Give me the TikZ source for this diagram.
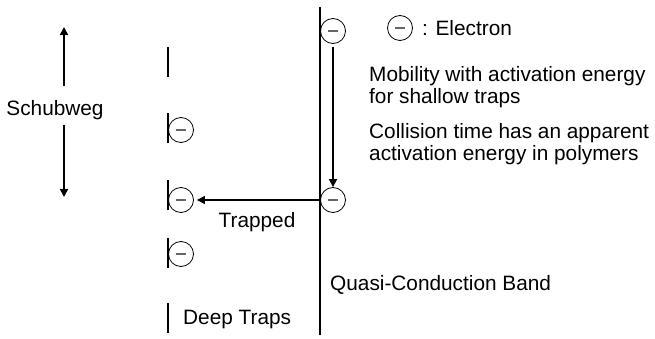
\documentclass[tikz,border=0pt]{standalone}
\usepackage{fontspec}
\setmainfont{Liberation Sans}
\usetikzlibrary{arrows.meta, positioning}

\begin{document}
\begin{tikzpicture}[
    x=1pt, y=-1pt,
    font=\fontsize{20.8}{22}\selectfont,
    electron/.style={draw, circle, minimum size=25pt, inner sep=0pt, line width=0.8pt, font=\normalsize},
    band/.style={line width=1.6pt},
    trap/.style={line width=1.6pt},
    arrow/.style={-{Triangle[length=8pt, width=8pt]}, line width=1.6pt},
    label/.style={inner sep=0pt, align=left}
]
\newcommand{\minus}{\textcolor{black!60}{\rule{10pt}{2.8pt}}}
\useasboundingbox (0,0) rectangle (655,339);

% Band
\coordinate (bandtop) at (320,7);
\coordinate (bandbot) at (320,335);
\draw [band] (bandtop) -- (bandbot);

% Traps
\foreach \y in {62,128,195,253,318}
  \draw [trap] (168,\y-15) -- (168,\y+15);

% Electrons
\node (e1) [electron] at (333,31) {\minus};
\node (e2) [electron] at (333,200) {\minus};
\node (t2) [electron] at (181,130) {\minus};
\node (t3) [electron] at (181,200) {\minus};
\node (t4) [electron] at (181,254) {\minus};

% Arrows
\draw [arrow, shorten <=3pt] (e1) -- (e2);
\draw [arrow, shorten >=3pt] (e2.west) -- node[below=8pt] {Trapped} (t3.east);

% Schubweg
\node (schub) [label] at (55,110) {Schubweg};
\coordinate (uptail) at (64,86);
\coordinate (uptip) at (64,27);
\coordinate (dntail) at (64,125);
\coordinate (dntip) at (64,197);
\draw [arrow] (uptail) -- (uptip);
\draw [arrow] (dntail) -- (dntip);

% Legend and notes
\node (key) [electron] at (400,28) {\minus};
\node (keytext) [label, right=9pt of key] {: Electron};
\node (mob) [label, anchor=west] at (369,87) {Mobility with activation energy\\for shallow traps};
\node (coll) [label, anchor=west] at (369,144) {Collision time has an apparent\\activation energy in polymers};
\node (qcb) [label, anchor=west] at (330,285) {Quasi-Conduction Band};
\node (deep) [label, anchor=west] at (183,320) {Deep Traps};

\end{tikzpicture}
\end{document}
